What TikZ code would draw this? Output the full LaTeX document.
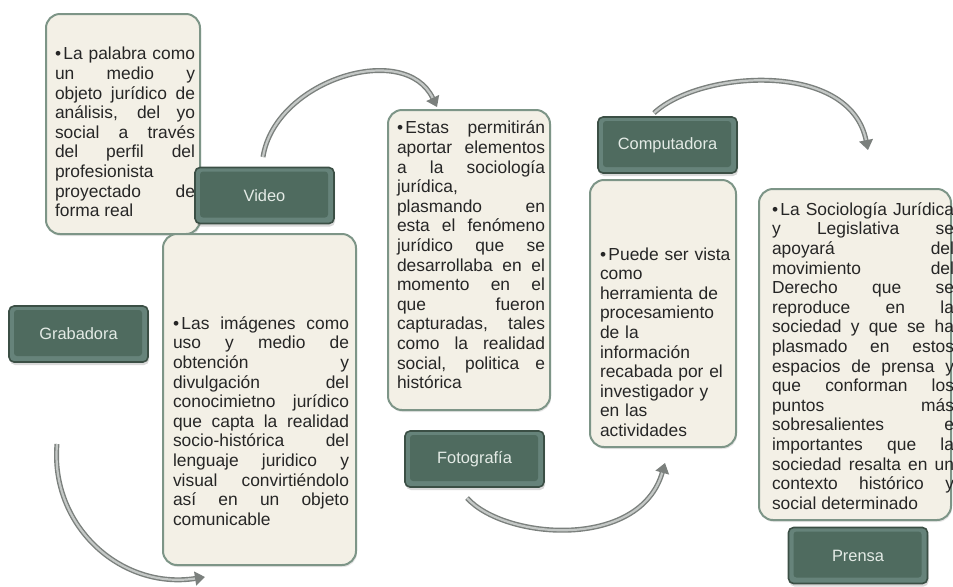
\documentclass[tikz,border=0pt]{standalone}
\usepackage{fontspec}
\setmainfont{Liberation Sans}
\usetikzlibrary{arrows.meta,shadows}

\definecolor{cardfill}{HTML}{F3F0E6}
\definecolor{cardline}{HTML}{7D9587}
\definecolor{lblfill}{HTML}{4F6B5F}
\definecolor{lblhi}{HTML}{66837A}
\definecolor{lblline}{HTML}{3B4F45}
\definecolor{lbltext}{HTML}{E4EBE6}
\definecolor{arrgray}{HTML}{7B807D}
\definecolor{arrlight}{HTML}{C4C8C6}

\newcommand{\bul}{\noindent\hangindent=2pt\hangafter=1\textbullet\hspace{1.2pt}}
\tolerance=10000
\hbadness=10000

\begin{document}
\begin{tikzpicture}[x=0.5pt, y=-0.5pt,
    card/.style={draw=cardline, line width=1pt, fill=cardfill, rounded corners=7pt,
      drop shadow={opacity=0.2, shadow xshift=0.5pt, shadow yshift=-1pt}},
    cardtext/.style={inner sep=0pt, align=justify, text=black!85,
      font=\fontsize{8.7}{9.8}\selectfont},
    label/.style={draw=lblline, line width=0.8pt, fill=lblhi, rounded corners=2.5pt,
      minimum width=69.5pt, minimum height=28pt, text=lbltext,
      font=\fontsize{8.2}{10}\selectfont,
      drop shadow={opacity=0.3, shadow xshift=0.5pt, shadow yshift=-1.5pt},
      path picture={\fill[lblfill, rounded corners=1.5pt]
        ([shift={(2.5pt,-2pt)}]path picture bounding box.north west)
        rectangle ([shift={(-3pt,3pt)}]path picture bounding box.south east);}},
    arr/.style={draw=arrgray, line width=0.7pt, double=arrlight, double distance=1.1pt,
      -{Triangle[length=5pt, width=7pt]}}]
  \useasboundingbox (0,0) rectangle (953,586);

  % Video
  \node[card, minimum width=77pt, minimum height=110pt] (palabra) at (123,124) {};
  \node[cardtext, text width=70pt] (palabratxt) at (125,132) {\bul La palabra como\linebreak
    un medio y\linebreak objeto jurídico de\linebreak análisis, del yo\linebreak
    social a través\linebreak del perfil del\linebreak profesionista\linebreak
    proyectado de\linebreak forma real};
  \node[label] (video) at (264.5,195.5) {Video};

  % Grabadora
  \node[label] (grabadora) at (78.5,334) {Grabadora};
  \node[card, minimum width=96.5pt, minimum height=165.5pt] (imagenes) at (259.5,399.5) {};
  \node[cardtext, text width=88pt] (imagenestxt) at (261,421) {\bul Las imágenes como\linebreak
    uso y medio de\linebreak obtención y\linebreak divulgación del\linebreak
    conocimietno jurídico\linebreak que capta la realidad\linebreak socio-histórica del\linebreak
    lenguaje juridico y\linebreak visual convirtiéndolo\linebreak así en un objeto\linebreak
    comunicable};

  % Fotografia
  \node[card, minimum width=81pt, minimum height=150pt] (estas) at (469,260) {};
  \node[cardtext, text width=74pt] (estastxt) at (471,255) {\bul Estas permitirán\linebreak
    aportar elementos\linebreak a la sociología\linebreak jurídica,\linebreak
    plasmando en\linebreak esta el fenómeno\linebreak jurídico que se\linebreak
    desarrollaba en el\linebreak momento en el\linebreak que fueron\linebreak
    capturadas, tales\linebreak como la realidad\linebreak social, politica e\linebreak
    histórica};
  \node[label] (fotografia) at (474.5,459) {Fotografía};

  % Computadora
  \node[label] (computadora) at (667.5,145) {Computadora};
  \node[card, minimum width=73pt, minimum height=133.5pt] (puede) at (663,313.5) {};
  \node[cardtext, text width=66pt, align=left] (puedetxt) at (666,342) {\bul Puede ser vista\\
    como\\ herramienta de\\ procesamiento\\ de la\\ información\\ recabada por el\\
    investigador y\\ en las\\ actividades};

  % Prensa
  \node[card, minimum width=96pt, minimum height=165.5pt] (sociologia) at (855,354.5) {};
  \node[cardtext, text width=91pt] (sociologiatxt) at (863,356) {\bul La Sociología Jurídica\linebreak
    y Legislativa se\linebreak apoyará del\linebreak movimiento del\linebreak
    Derecho que se\linebreak reproduce en la\linebreak sociedad y que se ha\linebreak
    plasmado en estos\linebreak espacios de prensa y\linebreak que conforman los\linebreak
    puntos más\linebreak sobresalientes e\linebreak importantes que la\linebreak
    sociedad resalta en un\linebreak contexto histórico y\linebreak social determinado};
  \node[label] (prensa) at (858,555.5) {Prensa};

  % Flechas curvas
  \coordinate (grab1) at (57,444);  \coordinate (grab2) at (205,577);
  \coordinate (vid1) at (263,157);  \coordinate (vid2) at (437,107);
  \coordinate (foto1) at (467,498); \coordinate (foto2) at (665,463);
  \coordinate (comp1) at (654,113); \coordinate (comp2) at (868,150);
  \draw[arr] (grab1) .. controls (50,525) and (120,590) .. (grab2);
  \draw[arr] (vid1) .. controls (275,80) and (405,40) .. (vid2);
  \draw[arr] (foto1) .. controls (505,540) and (640,550) .. (foto2);
  \draw[arr] (comp1) .. controls (700,70) and (850,60) .. (comp2);
\end{tikzpicture}
\end{document}
